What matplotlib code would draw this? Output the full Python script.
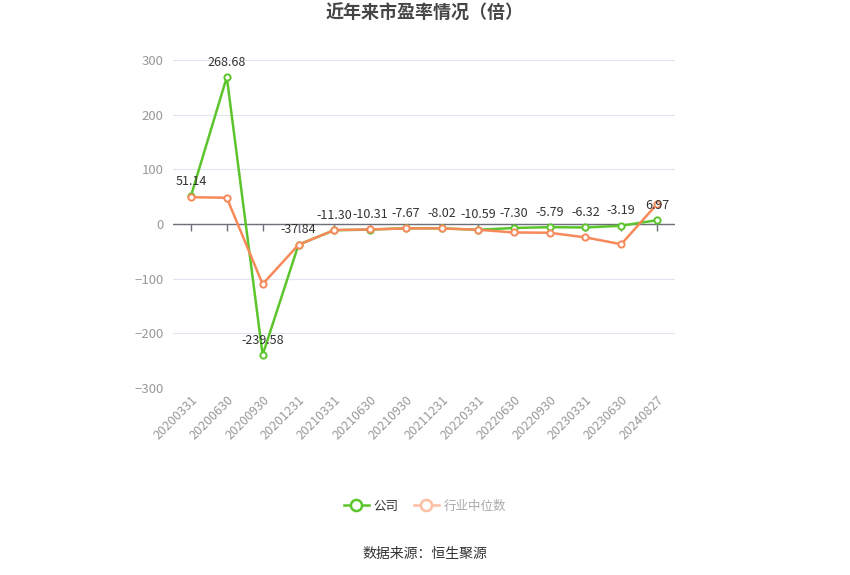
import matplotlib
matplotlib.use("Agg")
import matplotlib.pyplot as plt
import numpy as np
from matplotlib.lines import Line2D

plt.rcParams['font.family'] = ['Noto Sans CJK SC', 'DejaVu Sans']

dates = ["20200331", "20200630", "20200930", "20201231", "20210331", "20210630",
         "20210930", "20211231", "20220331", "20220630", "20220930", "20230331",
         "20230630", "20240827"]
company = [51.14, 268.68, -239.58, -37.84, -11.30, -10.31, -7.67, -8.02, -10.59,
           -7.30, -5.79, -6.32, -3.19, 6.97]
industry = [49, 48, -110, -38, -11, -10, -8, -8, -10.5, -15.5, -16, -24.5, -37, 36.5]
yticks = [-300, -200, -100, 0, 100, 200, 300]

green = '#5cc52c'
orange = '#f7895a'

fig = plt.figure(figsize=(8.5, 5.75), dpi=100)
ax = fig.add_axes([173/850, 1-388/575, (675-173)/850, (388-60)/575])

x = np.arange(len(dates))
ax.set_xlim(-0.5, len(dates)-0.5)
ax.set_ylim(-300, 300)

for s in ax.spines.values():
    s.set_visible(False)
ax.set_yticks(yticks)
ax.yaxis.grid(True, color='#e0e6f1', linewidth=0.8)
ax.set_axisbelow(True)
ax.tick_params(axis='y', length=0, labelcolor='#999999', labelsize=9.5, pad=7)
ax.set_xticks(x)
ax.set_xticklabels(dates, rotation=45, ha='right', va='top', rotation_mode='anchor')
ax.tick_params(axis='x', length=0, labelcolor='#999999', labelsize=9, pad=4)

# zero axis line with category ticks
ax.axhline(0, color='#6e7079', linewidth=1, zorder=2)
sec = ax.secondary_xaxis(0.5)
sec.set_xticks(x)
sec.set_xticklabels([])
for s in sec.spines.values():
    s.set_visible(False)
sec.tick_params(axis='x', direction='in', length=5, color='#6e7079', width=1)

ax.plot(x, company, color=green, linewidth=1.8, marker='o', markersize=4.5,
        markerfacecolor='white', markeredgecolor=green, markeredgewidth=1.4, zorder=3,
        label='公司')
ax.plot(x, industry, color=orange, linewidth=1.8, marker='o', markersize=4.5,
        markerfacecolor='white', markeredgecolor=orange, markeredgewidth=1.4, zorder=4,
        label='行业中位数')

for xi, v in zip(x, company):
    ax.annotate(f"{v:.2f}", (xi, v), xytext=(0, 6), textcoords='offset points',
                ha='center', va='bottom', fontsize=9, color='#333333', zorder=5)

fig.text(0.5, 1-13/575, '近年来市盈率情况（倍）', ha='center', va='center',
         fontsize=13, fontweight='bold', color='#464646')

h1 = Line2D([], [], color=green, linewidth=1.8, marker='o', markersize=8,
            markerfacecolor='white', markeredgecolor=green, markeredgewidth=1.8)
h2 = Line2D([], [], color='#fcbfa3', linewidth=1.8, marker='o', markersize=8,
            markerfacecolor='white', markeredgecolor='#fcbfa3', markeredgewidth=1.8)
leg = fig.legend([h1, h2], ['公司', '行业中位数'], loc='center', ncol=2,
                 bbox_to_anchor=(0.5, 1-506/575), frameon=False, fontsize=9,
                 handlelength=2, columnspacing=1.2, handletextpad=0.4)
leg.get_texts()[0].set_color('#333333')
leg.get_texts()[1].set_color('#aaaaaa')

fig.text(0.5, 1-554/575, '数据来源：恒生聚源', ha='center', va='center',
         fontsize=10, color='#333333')

fig.savefig('out.png', dpi=100)
